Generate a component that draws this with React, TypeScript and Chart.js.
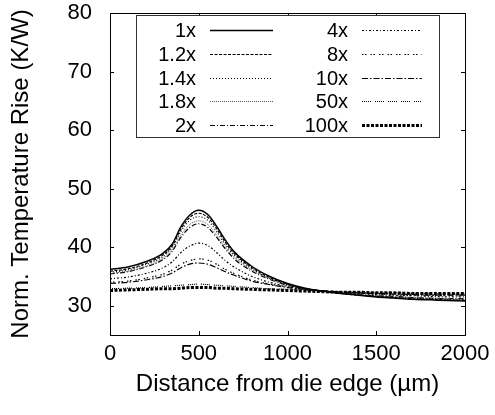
import React, { useEffect, useRef } from 'react';
import { Chart, registerables } from 'chart.js';
Chart.register(...registerables);

const xValues = [0, 100, 200, 300, 350, 400, 450, 500, 550, 600, 650, 700, 800, 900, 1000, 1100, 1200, 1300, 1400, 1500, 1600, 1700, 1800, 1900, 2000];

const s1x = [36.2, 36.6, 37.5, 39.0, 40.5, 43.5, 45.5, 46.3, 45.6, 43.6, 41.2, 39.2, 36.7, 35.0, 33.8, 33.0, 32.5, 32.1, 31.8, 31.5, 31.3, 31.1, 31.0, 30.9, 30.8];
const s12x = [35.9, 36.3, 37.2, 38.7, 40.2, 43.1, 45.1, 45.8, 45.1, 43.2, 40.8, 38.9, 36.5, 34.8, 33.7, 32.9, 32.5, 32.1, 31.8, 31.6, 31.4, 31.2, 31.1, 31.0, 30.9];
const s14x = [35.7, 36.1, 37.0, 38.4, 39.9, 42.7, 44.6, 45.2, 44.6, 42.7, 40.4, 38.6, 36.3, 34.7, 33.6, 32.9, 32.5, 32.1, 31.8, 31.6, 31.4, 31.3, 31.2, 31.1, 31.0];
const s18x = [35.5, 35.9, 36.7, 38.1, 39.5, 42.1, 43.9, 44.5, 43.9, 42.1, 40.0, 38.3, 36.1, 34.6, 33.5, 32.9, 32.5, 32.1, 31.9, 31.7, 31.5, 31.4, 31.3, 31.2, 31.1];
const s2x = [35.4, 35.8, 36.6, 37.9, 39.3, 41.7, 43.4, 44.0, 43.4, 41.7, 39.7, 38.0, 35.9, 34.5, 33.5, 32.9, 32.5, 32.2, 31.9, 31.7, 31.6, 31.4, 31.3, 31.2, 31.2];
const s4x = [34.6, 34.9, 35.5, 36.5, 37.5, 39.1, 40.2, 40.7, 40.3, 39.1, 37.7, 36.6, 35.0, 34.0, 33.3, 32.8, 32.5, 32.3, 32.1, 31.9, 31.8, 31.7, 31.6, 31.5, 31.5];
const s8x = [34.0, 34.2, 34.7, 35.4, 36.1, 37.1, 37.7, 38.0, 37.8, 37.1, 36.2, 35.5, 34.4, 33.7, 33.2, 32.8, 32.5, 32.3, 32.2, 32.0, 31.9, 31.8, 31.8, 31.7, 31.7];
const s10x = [33.8, 34.0, 34.4, 35.0, 35.6, 36.5, 37.1, 37.3, 37.1, 36.5, 35.8, 35.2, 34.2, 33.6, 33.1, 32.8, 32.5, 32.3, 32.2, 32.1, 32.0, 31.9, 31.8, 31.8, 31.8];
const s50x = [32.9, 33.0, 33.1, 33.3, 33.4, 33.5, 33.6, 33.7, 33.6, 33.5, 33.4, 33.3, 33.1, 32.9, 32.8, 32.6, 32.5, 32.4, 32.3, 32.2, 32.2, 32.1, 32.1, 32.0, 32.0];
const s100x = [32.6, 32.7, 32.8, 32.9, 32.9, 33.0, 33.1, 33.1, 33.1, 33.0, 33.0, 32.9, 32.8, 32.7, 32.6, 32.5, 32.4, 32.3, 32.3, 32.2, 32.2, 32.1, 32.1, 32.1, 32.1];

const seriesLabels = ['1x', '1.2x', '1.4x', '1.8x', '2x', '4x', '8x', '10x', '50x', '100x'];
const seriesValues = [s1x, s12x, s14x, s18x, s2x, s4x, s8x, s10x, s50x, s100x];

const xTicks = [0, 500, 1000, 1500, 2000];
const yTicks = [30, 40, 50, 60, 70, 80];

const xTitle = 'Distance from die edge (\u00b5m)';
const yTitle = 'Norm. Temperature Rise (K/W)';

const lineStyles = [
  { dash: [], width: 1.5, color: '#000' },
  { dash: [3, 1.5], width: 1.2, color: '#000' },
  { dash: [1, 2], width: 1.2, color: '#000' },
  { dash: [1, 1], width: 1, color: '#555' },
  { dash: [5, 2, 1, 2], width: 1.2, color: '#000' },
  { dash: [2, 2, 1, 2], width: 1.2, color: '#000' },
  { dash: [1.5, 1.5, 1.5, 4], width: 1.2, color: '#000' },
  { dash: [6, 2, 1.5, 2], width: 1.2, color: '#000' },
  { dash: [1, 1, 1, 1, 1, 1, 1, 1, 1, 4], width: 1.2, color: '#000' },
  { dash: [3, 1.5], width: 3, color: '#000' },
];

const FONT = '"Liberation Sans", Arial, Helvetica, sans-serif';

const framePlugin = {
  id: 'frame',
  afterDatasetsDraw(chart: any) {
    const { ctx, chartArea } = chart;
    const { left, right, top, bottom } = chartArea;
    const xs = chart.scales.x;
    const ys = chart.scales.y;
    ctx.save();
    ctx.strokeStyle = '#000';
    ctx.lineWidth = 1;
    ctx.setLineDash([]);
    ctx.strokeRect(Math.round(left) + 0.5, Math.round(top) + 0.5, Math.round(right - left), Math.round(bottom - top));
    const tl = 4;
    ctx.beginPath();
    xTicks.forEach((v) => {
      const px = Math.round(xs.getPixelForValue(v)) + 0.5;
      ctx.moveTo(px, bottom);
      ctx.lineTo(px, bottom - tl);
      ctx.moveTo(px, top);
      ctx.lineTo(px, top + tl);
    });
    yTicks.forEach((v) => {
      const py = Math.round(ys.getPixelForValue(v)) + 0.5;
      ctx.moveTo(left, py);
      ctx.lineTo(left + tl, py);
      ctx.moveTo(right, py);
      ctx.lineTo(right - tl, py);
    });
    ctx.stroke();

    // legend
    const bx = Math.round(left) + 26.5;
    const by = Math.round(top) + 2.5;
    const bw = 303;
    const bh = 122;
    ctx.fillStyle = '#fff';
    ctx.fillRect(bx, by, bw, bh);
    ctx.strokeStyle = '#333';
    ctx.strokeRect(bx, by, bw, bh);
    ctx.font = '20px ' + FONT;
    ctx.textAlign = 'right';
    ctx.textBaseline = 'middle';
    ctx.fillStyle = '#000';
    seriesLabels.forEach((lab, i) => {
      const col = i < 5 ? 0 : 1;
      const row = i % 5;
      const y = Math.round(top + 17 + row * 23.8) + 0.5;
      const labelRight = left + (col === 0 ? 86 : 238);
      const sx0 = left + (col === 0 ? 100 : 252);
      const sx1 = left + (col === 0 ? 163 : 312);
      ctx.fillText(lab, labelRight, y + 1);
      const st = lineStyles[i];
      ctx.beginPath();
      ctx.setLineDash(st.dash);
      ctx.lineWidth = st.width;
      ctx.strokeStyle = st.color;
      ctx.moveTo(sx0, y);
      ctx.lineTo(sx1, y);
      ctx.stroke();
    });
    ctx.restore();
  },
};

export default function App() {
  const canvasRef = useRef<HTMLCanvasElement | null>(null);

  useEffect(() => {
    document.body.style.margin = '0';
    const canvas = canvasRef.current;
    if (!canvas) return;
    const datasets = seriesValues.map((vals, i) => ({
      label: seriesLabels[i],
      data: vals.map((v, j) => ({ x: xValues[j], y: v })),
      borderColor: lineStyles[i].color,
      borderWidth: lineStyles[i].width,
      borderDash: lineStyles[i].dash,
      pointRadius: 0,
      fill: false,
      cubicInterpolationMode: 'monotone' as const,
    }));
    const chart = new Chart(canvas, {
      type: 'line',
      data: { datasets },
      options: {
        responsive: false,
        animation: false,
        devicePixelRatio: 1,
        layout: { padding: { top: 13, right: 30, left: 0, bottom: 0 } },
        plugins: { legend: { display: false }, tooltip: { enabled: false } },
        scales: {
          x: {
            type: 'linear',
            min: 0,
            max: 2000,
            afterBuildTicks: (s: any) => {
              s.ticks = xTicks.map((v) => ({ value: v }));
            },
            afterFit: (s: any) => {
              s.height = 80;
              s.paddingLeft = 0;
              s.paddingRight = 0;
            },
            grid: { display: false, drawTicks: false },
            border: { display: false },
            ticks: {
              padding: 6,
              color: '#000',
              maxRotation: 0,
              autoSkip: false,
              font: { family: FONT, size: 22 },
              callback: (v: any) => String(v),
            },
            title: {
              display: true,
              text: xTitle,
              color: '#000',
              font: { family: FONT, size: 24 },
              padding: { top: 0, bottom: 16 },
            },
          },
          y: {
            type: 'linear',
            min: 25,
            max: 80,
            afterBuildTicks: (s: any) => {
              s.ticks = yTicks.map((v) => ({ value: v }));
            },
            afterFit: (s: any) => {
              s.width = 110;
              s.paddingTop = 0;
              s.paddingBottom = 0;
            },
            grid: { display: false, drawTicks: false },
            border: { display: false },
            ticks: {
              padding: 18,
              color: '#000',
              font: { family: FONT, size: 22 },
              callback: (v: any) => String(v),
            },
            title: {
              display: true,
              text: yTitle,
              color: '#000',
              font: { family: FONT, size: 24 },
              padding: { top: 7, bottom: 0 },
            },
          },
        },
      },
      plugins: [framePlugin],
    });
    return () => chart.destroy();
  }, []);

  return (
    <div style={{ width: 495, height: 415, background: '#fff' }}>
      <canvas ref={canvasRef} width={495} height={415} style={{ display: 'block' }} />
    </div>
  );
}
